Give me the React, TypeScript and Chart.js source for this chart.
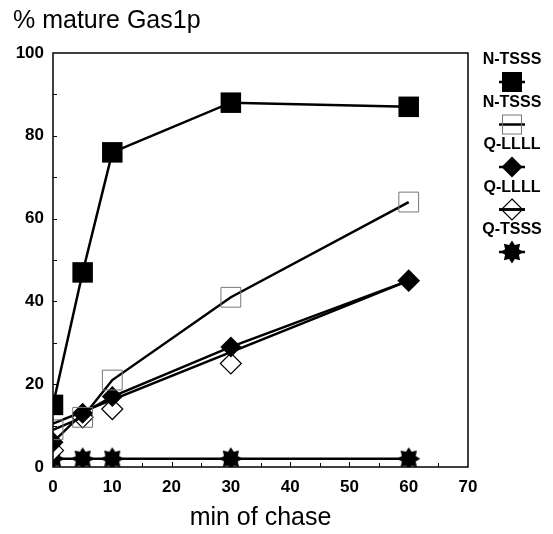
import React, { useEffect, useRef } from 'react';
import { Chart, registerables } from 'chart.js';

Chart.register(...registerables);

// ---- data ----
const minutes = [0, 5, 10, 30, 60];
const nTsssFilled = [15, 47, 76, 88, 87];
const nTsssOpen = [9, 12, 21, 41, 64];
const qLlllFilled = [6, 13, 17, 29, 45];
const qLlllOpen = [4, 12, 14, 25, 45];
const qLlllOpenLineX = [0, 60];
const qLlllOpenLineY = [10.5, 45];
const qTsss = [2, 2, 2, 2, 2];
const legendLabels = ['N-TSSS', 'N-TSSS', 'Q-LLLL', 'Q-LLLL', 'Q-TSSS'];
const legendKinds = ['fillSquare', 'openSquare', 'fillDiamond', 'openDiamond', 'star'];
const yTickValues = [0, 20, 40, 60, 80, 100];
const xTickValues = [0, 10, 20, 30, 40, 50, 60, 70];

const FONT = '"Liberation Sans", Arial, Helvetica, sans-serif';

function starPath(ctx: CanvasRenderingContext2D, cx: number, cy: number, ro: number, ri: number) {
  ctx.beginPath();
  const n = 8;
  for (let i = 0; i < n * 2; i++) {
    const r = i % 2 === 0 ? ro : ri;
    const a = -Math.PI / 2 + (i * Math.PI) / n;
    const px = cx + r * Math.cos(a);
    const py = cy + r * Math.sin(a);
    if (i === 0) ctx.moveTo(px, py);
    else ctx.lineTo(px, py);
  }
  ctx.closePath();
}

function makeStarCanvas() {
  const c = document.createElement('canvas');
  c.width = 24;
  c.height = 24;
  const ctx = c.getContext('2d')!;
  ctx.fillStyle = '#000';
  starPath(ctx, 12, 12, 11.5, 7.5);
  ctx.fill();
  return c;
}

function pts(xs: number[], ys: number[]) {
  return xs.map((x, i) => ({ x, y: ys[i] }));
}

export default function App() {
  const ref = useRef<HTMLCanvasElement | null>(null);

  useEffect(() => {
    if (!ref.current) return;
    const star = makeStarCanvas();

    const framePlugin = {
      id: 'frameAndLegend',
      afterDatasetsDraw(chart: any) {
        const { ctx, chartArea } = chart;
        const { left, right, top, bottom } = chartArea;
        const xs = chart.scales.x;
        const ys = chart.scales.y;
        ctx.save();
        ctx.strokeStyle = '#000';
        ctx.lineWidth = 1.5;
        ctx.strokeRect(left, top, right - left, bottom - top);
        ctx.lineWidth = 1;
        for (let v = 5; v < 70; v += 5) {
          const px = Math.round(xs.getPixelForValue(v)) + 0.5;
          const len = v % 10 === 0 ? 5 : 4;
          ctx.beginPath();
          ctx.moveTo(px, bottom);
          ctx.lineTo(px, bottom - len);
          ctx.stroke();
        }
        for (let v = 10; v < 100; v += 10) {
          const py = Math.round(ys.getPixelForValue(v)) + 0.5;
          ctx.beginPath();
          ctx.moveTo(left, py);
          ctx.lineTo(left + 4, py);
          ctx.stroke();
        }

        // legend
        const cx = 512;
        const textY0 = 60;
        const step = 42.5;
        ctx.font = `bold 16px ${FONT}`;
        ctx.textAlign = 'center';
        ctx.textBaseline = 'middle';
        legendLabels.forEach((label, i) => {
          const ty = textY0 + i * step;
          const my = ty + 22;
          ctx.fillStyle = '#000';
          ctx.fillText(label, cx, ty);
          ctx.strokeStyle = '#000';
          ctx.lineWidth = 2.5;
          ctx.beginPath();
          ctx.moveTo(cx - 13, my);
          ctx.lineTo(cx + 13, my);
          ctx.stroke();
          const kind = legendKinds[i];
          if (kind === 'fillSquare') {
            ctx.fillStyle = '#000';
            ctx.fillRect(cx - 10, my - 10, 20, 20);
          } else if (kind === 'openSquare') {
            ctx.strokeStyle = '#777';
            ctx.lineWidth = 1;
            ctx.strokeRect(cx - 9.5, my - 9.5, 19, 19);
          } else if (kind === 'fillDiamond' || kind === 'openDiamond') {
            ctx.beginPath();
            ctx.moveTo(cx, my - 10.5);
            ctx.lineTo(cx + 10.5, my);
            ctx.lineTo(cx, my + 10.5);
            ctx.lineTo(cx - 10.5, my);
            ctx.closePath();
            if (kind === 'fillDiamond') {
              ctx.fillStyle = '#000';
              ctx.fill();
            } else {
              ctx.strokeStyle = '#000';
              ctx.lineWidth = 1.2;
              ctx.stroke();
              ctx.lineWidth = 2.5;
              ctx.beginPath();
              ctx.moveTo(cx - 13, my);
              ctx.lineTo(cx + 13, my);
              ctx.stroke();
            }
          } else {
            ctx.drawImage(star, cx - 12, my - 12);
          }
        });
        ctx.restore();
      },
    };

    const lineBase = {
      showLine: true,
      borderColor: '#000',
      borderWidth: 2.5,
      pointBorderColor: '#000',
    };

    const chart = new Chart(ref.current, {
      type: 'scatter',
      data: {
        datasets: [
          {
            ...lineBase,
            label: 'N-TSSS',
            data: pts(minutes, nTsssFilled),
            pointStyle: 'rect',
            pointRadius: 14.5,
            pointBorderWidth: 0,
            pointBackgroundColor: '#000',
          },
          {
            ...lineBase,
            label: 'N-TSSS open',
            data: pts(minutes, nTsssOpen),
            pointStyle: 'rect',
            pointRadius: 14,
            pointBorderWidth: 1,
            pointBorderColor: '#777',
            pointBackgroundColor: 'rgba(0,0,0,0)',
          },
          {
            ...lineBase,
            label: 'Q-LLLL',
            data: pts(minutes, qLlllFilled),
            pointStyle: 'rectRot',
            pointRadius: 10.5,
            pointBorderWidth: 0,
            pointBackgroundColor: '#000',
          },
          {
            ...lineBase,
            label: 'Q-LLLL trend',
            data: pts(qLlllOpenLineX, qLlllOpenLineY),
            pointRadius: 0,
          },
          {
            label: 'Q-LLLL open',
            showLine: false,
            data: pts(minutes, qLlllOpen),
            pointStyle: 'rectRot',
            pointRadius: 10.5,
            pointBorderWidth: 1.2,
            pointBorderColor: '#000',
            pointBackgroundColor: '#fff',
          },
          {
            ...lineBase,
            label: 'Q-TSSS',
            data: pts(minutes, qTsss),
            pointStyle: star as any,
            pointRadius: 11,
          },
        ],
      },
      options: {
        animation: false,
        responsive: false,
        maintainAspectRatio: false,
        layout: { padding: { left: 13, right: 85, top: 0, bottom: 0 } },
        plugins: {
          legend: { display: false },
          tooltip: { enabled: false },
          title: {
            display: true,
            text: '% mature Gas1p',
            align: 'start',
            color: '#000',
            font: { family: FONT, size: 25, weight: 'normal' as any },
            padding: { top: 6, bottom: 17 },
          },
        },
        scales: {
          x: {
            type: 'linear',
            min: 0,
            max: 70,
            afterBuildTicks: (scale: any) => {
              scale.ticks = xTickValues.map((v) => ({ value: v }));
            },
            afterFit: (scale: any) => {
              scale.height = 67;
            },
            grid: { display: false, drawTicks: false },
            border: { display: false },
            ticks: {
              color: '#000',
              padding: 10,
              font: { family: FONT, size: 17, weight: 'bold' as any },
              maxRotation: 0,
            },
            title: {
              display: true,
              text: 'min of chase',
              color: '#000',
              font: { family: FONT, size: 25 },
              padding: { top: 0, bottom: 1 },
            },
          },
          y: {
            type: 'linear',
            min: 0,
            max: 100,
            afterBuildTicks: (scale: any) => {
              scale.ticks = yTickValues.map((v) => ({ value: v }));
            },
            afterFit: (scale: any) => {
              scale.width = 40;
            },
            grid: { display: false, drawTicks: false },
            border: { display: false },
            ticks: {
              color: '#000',
              padding: 9,
              font: { family: FONT, size: 17, weight: 'bold' as any },
            },
          },
        },
      },
      plugins: [framePlugin],
    });

    return () => chart.destroy();
  }, []);

  return (
    <div style={{ position: 'fixed', left: 0, top: 0, width: 553, height: 534, background: '#fff' }}>
      <canvas ref={ref} width={553} height={534} style={{ width: 553, height: 534, display: 'block' }} />
    </div>
  );
}
